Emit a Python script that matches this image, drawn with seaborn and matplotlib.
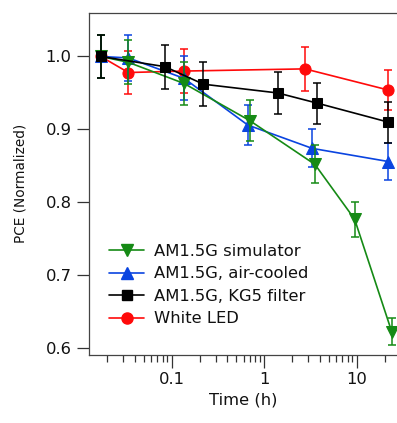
import matplotlib
matplotlib.use("Agg")
import matplotlib.pyplot as plt
import seaborn as sns
import pandas as pd
from matplotlib.lines import Line2D

# Data
green_t = [0.0171, 0.034, 0.136, 0.70, 3.54, 9.5, 23.9]
green_y = [1.0, 0.992, 0.963, 0.912, 0.852, 0.777, 0.623]
green_e = [0.03, 0.03, 0.03, 0.028, 0.026, 0.024, 0.018]

blue_t = [0.0171, 0.034, 0.136, 0.665, 3.31, 22]
blue_y = [1.0, 0.998, 0.970, 0.906, 0.874, 0.856]
blue_e = [0.03, 0.031, 0.03, 0.027, 0.026, 0.026]

black_t = [0.0171, 0.0847, 0.22, 1.40, 3.75, 22]
black_y = [1.0, 0.986, 0.962, 0.950, 0.936, 0.910]
black_e = [0.03, 0.03, 0.03, 0.029, 0.028, 0.028]

red_t = [0.0171, 0.034, 0.136, 2.76, 22]
red_y = [1.0, 0.978, 0.980, 0.983, 0.954]
red_e = [0.03, 0.03, 0.03, 0.03, 0.028]

labels = ["AM1.5G simulator", "AM1.5G, air-cooled", "AM1.5G, KG5 filter", "White LED"]
colors = ["#158a15", "#0a44e0", "#000000", "#ff0a0a"]
markers = ["v", "^", "s", "o"]
msizes = [9, 9, 7.5, 8]

sns.set_style("ticks")
plt.rcParams['font.family'] = ['DejaVu Sans']
plt.rcParams['text.color'] = '#111111'
plt.rcParams['axes.labelcolor'] = '#111111'
plt.rcParams['xtick.labelcolor'] = '#111111'
plt.rcParams['ytick.labelcolor'] = '#111111'

fig = plt.figure(figsize=(3.97, 4.23), dpi=100)
ax = fig.add_axes([89/397, 68/423, 1 - 89/397, (355 - 12.7)/423])

series = {
    labels[0]: (green_t, green_y, green_e),
    labels[1]: (blue_t, blue_y, blue_e),
    labels[2]: (black_t, black_y, black_e),
    labels[3]: (red_t, red_y, red_e),
}
draw_order = [3, 1, 0, 2]
for i in draw_order:
    lab = labels[i]
    t, y, e = series[lab]
    df = pd.DataFrame({"t": t, "y": y})
    ax.errorbar(t, y, yerr=e, fmt="none", ecolor=colors[i], elinewidth=1.1,
                capsize=3, capthick=1.1, zorder=2 + draw_order.index(i))
    sns.lineplot(data=df, x="t", y="y", ax=ax, color=colors[i], marker=markers[i],
                 markersize=msizes[i], markeredgecolor=colors[i], linewidth=1.2,
                 zorder=2 + draw_order.index(i), legend=False)

FS = 11.8
ax.set_xscale("log")
ax.set_xlim(0.01276, 27.3)
ax.set_ylim(0.5908, 1.06)
ax.set_yticks([0.6, 0.7, 0.8, 0.9, 1.0])
ax.set_yticklabels(["0.6", "0.7", "0.8", "0.9", "1.0"])
ax.set_xticks([0.1, 1, 10])
ax.set_xticklabels(["0.1", "1", "10"])
ax.tick_params(axis="both", which="major", labelsize=FS, direction="out",
               length=9, width=0.9, color="#333333", pad=3.5)
ax.tick_params(axis="x", which="minor", direction="out", length=5, width=0.9, color="#333333")
ax.set_xlabel("Time (h)", fontsize=FS, labelpad=4)
ax.set_ylabel("PCE (Normalized)", fontsize=9.8, labelpad=13)
for s in ["left", "bottom", "top"]:
    ax.spines[s].set_color("#444444")
    ax.spines[s].set_linewidth(0.9)
ax.spines["right"].set_visible(False)

handles = [Line2D([], [], color=colors[i], marker=markers[i], markersize=msizes[i],
                  linewidth=1.2) for i in range(4)]
ax.legend(handles, labels, loc="upper left", bbox_to_anchor=(0.065, 0.325),
          frameon=False, fontsize=FS, handlelength=2.15, handletextpad=0.6,
          labelspacing=0.46, borderaxespad=0, borderpad=0)

fig.savefig("out.png", dpi=100)
